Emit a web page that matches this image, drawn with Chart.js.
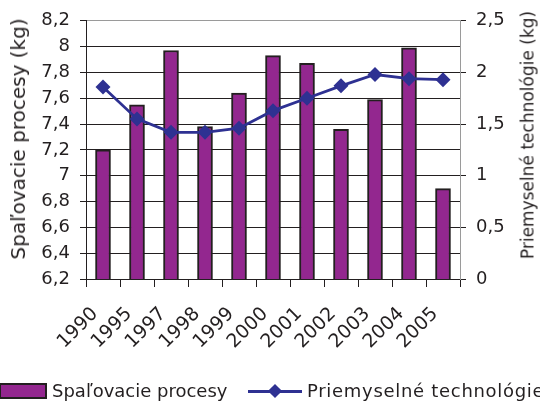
<!DOCTYPE html>
<html><head><meta charset="utf-8">
<script src="https://cdn.jsdelivr.net/npm/chart.js@4/dist/chart.umd.min.js"></script>
<style>
html,body{margin:0;padding:0;background:#fff;overflow:hidden}
#wrap{position:relative;width:540px;height:405px;overflow:hidden}
canvas{position:absolute;left:0;top:0}
.lg{position:absolute;font-family:"DejaVu Sans";font-size:18px;color:#231F20;white-space:nowrap;line-height:20px}
.ttl{position:absolute;font-family:"DejaVu Sans";color:#231F20;white-space:nowrap;line-height:1;transform:translate(-50%,-50%) rotate(-90deg)}
</style></head><body>
<div id="wrap"><canvas id="c" width="540" height="405"></canvas>
<div class="ttl" style="left:18px;top:139px;font-size:20px">Spaľovacie procesy (kg)</div>
<div class="ttl" style="left:528px;top:135px;font-size:17px">Priemyselné technológie (kg)</div>
<div style="position:absolute;left:-1px;top:383px;width:48px;height:16px;box-sizing:border-box;background:#93278F;border:2px solid #231F20"></div>
<div class="lg" style="left:52px;top:381px">Spaľovacie procesy</div>
<div style="position:absolute;left:248px;top:390px;width:54px;height:3px;background:#2E3192"></div>
<div style="position:absolute;left:270px;top:386px;width:10px;height:10px;background:#2E3192;transform:rotate(45deg)"></div>
<div class="lg" style="left:307px;top:381px;letter-spacing:0.7px">Priemyselné technológie</div>
</div>
<script>
const categories = ['1990','1995','1997','1998','1999','2000','2001','2002','2003','2004','2005'];
const spalovacie = [7.2, 7.55, 7.97, 7.38, 7.64, 7.93, 7.87, 7.36, 7.59, 7.99, 6.9];
const priemyselne = [1.86, 1.55, 1.42, 1.42, 1.46, 1.63, 1.75, 1.87, 1.98, 1.94, 1.93];
const leftTickValues = [6.2, 6.4, 6.6, 6.8, 7.0, 7.2, 7.4, 7.6, 7.8, 8.0, 8.2];
const leftTickLabels = ['6,2','6,4','6,6','6,8','7','7,2','7,4','7,6','7,8','8','8,2'];
const rightTickValues = [0, 0.5, 1, 1.5, 2, 2.5];
const rightTickLabels = ['0','0,5','1','1,5','2','2,5'];

const FONT = 'DejaVu Sans';
const INK = '#231F20';

new Chart(document.getElementById('c'), {
  data: {
    labels: categories,
    datasets: [
      {type:'bar', label:'Spaľovacie procesy', data: spalovacie, yAxisID:'y',
       backgroundColor:'#93278F', borderColor:INK, borderWidth:2, borderSkipped:false,
       barThickness:15, order:2},
      {type:'line', label:'Priemyselné technológie', data: priemyselne, yAxisID:'y1',
       borderColor:'#2E3192', backgroundColor:'#2E3192', borderWidth:2.8,
       pointStyle:'rectRot', pointRadius:7.5, pointHoverRadius:7.5, pointBorderWidth:0,
       tension:0, order:1}
    ]
  },
  options: {
    responsive:false, animation:false, devicePixelRatio:1,
    layout:{padding:{top:19,left:0,right:0,bottom:0}},
    plugins:{legend:{display:false}, tooltip:{enabled:false}},
    scales:{
      x:{
        offset:true,
        grid:{offset:true, drawOnChartArea:false, drawTicks:true, tickLength:8, color:INK, lineWidth:1},
        border:{color:INK, width:1},
        ticks:{minRotation:45, maxRotation:45, autoSkip:false, font:{family:FONT, size:19}, color:INK, padding:16, labelOffset:-8},
        afterFit: s => { s.height = 126; }
      },
      y:{
        position:'left', min:6.2, max:8.2,
        afterBuildTicks: s => { s.ticks = leftTickValues.map(v => ({value:v})); },
        ticks:{callback:(v,i) => leftTickLabels[i], font:{family:FONT, size:18}, color:INK, padding:10},
        grid:{color: c => (c.index === leftTickValues.length-1 ? '#9a9a9a' : INK), tickColor: INK, tickLength:6, lineWidth:1},
        border:{color:INK, width:1},
        afterFit: s => { s.width = 86; }
      },
      y1:{
        position:'right', min:0, max:2.5,
        afterBuildTicks: s => { s.ticks = rightTickValues.map(v => ({value:v})); },
        ticks:{callback:(v,i) => rightTickLabels[i], font:{family:FONT, size:18}, color:INK, padding:10},
        grid:{drawOnChartArea:false, color:INK, tickLength:6, lineWidth:1},
        border:{color:'#9a9a9a', width:1},
        afterFit: s => { s.width = 80; }
      }
    }
  }
});
</script>
</body></html>
